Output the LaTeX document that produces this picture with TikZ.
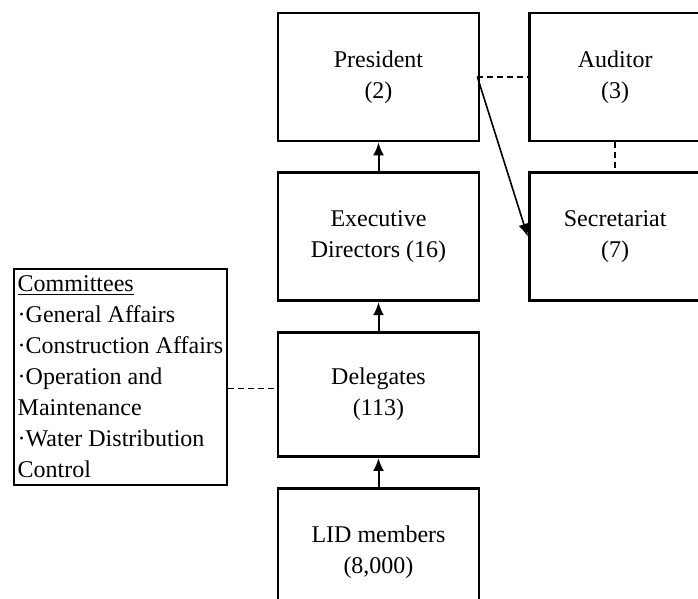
\documentclass[tikz,border=0pt]{standalone}
\usepackage{fontspec}
\setmainfont{Liberation Serif}
\usetikzlibrary{positioning,arrows.meta}

\begin{document}
\begin{tikzpicture}[x=0.5pt, y=-0.5pt,
        box/.style = {draw, line width=1.4pt, minimum width=100.5pt, minimum height=64pt, align=center, font=\fontsize{12}{15.5}\selectfont},
        link/.style = {line width=0.8pt, dash pattern=on 3pt off 2pt},
        up/.style = {-{Latex[length=6.5pt,width=5.5pt]}, line width=1pt},
        node distance={14.5pt}]
        \useasboundingbox (0,0) rectangle (698,599);
        \node[box] (pres) at (378.5,77) {President\\(2)};
        \node[box, minimum width=86pt] (audit) [right=23.7pt of pres] {Auditor\\(3)};
        \node[box] (exec) [below=of pres] {Executive\\Directors (16)};
        \node[box, minimum width=86pt] (secr) [below=of audit] {Secretariat\\(7)};
        \node[box, minimum height=62pt] (dele) [below=of exec] {Delegates\\(113)};
        \node[box] (lid) [below=of dele] {LID members\\(8,000)};
        \node[box, align=left, inner xsep=1pt, minimum width=106.5pt, minimum height=108pt] (comm) at (120.5,377)
            {\underline{Committees}\\·General Affairs\\·Construction Affairs\\·Operation and\\Maintenance\\·Water Distribution\\Control};
        \coordinate (pe) at ([xshift=-1.5pt]pres.east);
        \coordinate (cd) at ([yshift=3pt]dele.west);
        \draw[up] (lid) -- (dele);
        \draw[up] (dele) -- (exec);
        \draw[up] (exec) -- (pres);
        \draw[up, line width=0.8pt] (pe) -- (secr.west);
        \draw[link] (pe) -- (pe -| audit.west);
        \draw[link] (audit) -- (secr);
        \draw[link] (cd -| comm.east) -- (cd);
    \end{tikzpicture}
\end{document}
